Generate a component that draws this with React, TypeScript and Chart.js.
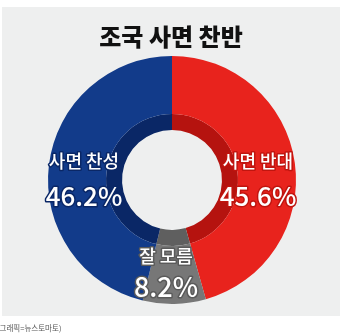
import React, { useEffect, useRef } from "react";
import { Chart, registerables } from "chart.js";

Chart.register(...registerables);

const title = "조국 사면 찬반";
const categories = ["사면 반대", "잘 모름", "사면 찬성"];
const values = [45.6, 8.2, 46.2];
const valueLabels = ["45.6%", "8.2%", "46.2%"];
const mainColors = ["#e8231d", "#777777", "#123b8a"];
const innerColors = ["#b5130f", "#5f5f5f", "#0a2766"];
const outlineColors = ["#c0150f", "#5a5a5a", "#0a2766"];
const credit = "(그래픽=뉴스토마토)";

const FONT = "'Noto Sans CJK KR', 'Noto Sans', sans-serif";

const decor = {
  id: "decor",
  beforeDraw(chart: any) {
    const ctx = chart.ctx;
    ctx.save();
    ctx.fillStyle = "#ffffff";
    ctx.fillRect(0, 0, chart.width, chart.height);
    ctx.fillStyle = "#eeefef";
    ctx.fillRect(2, 7, chart.width - 2, 309);
    ctx.restore();
  },
  afterDraw(chart: any) {
    const ctx = chart.ctx;
    ctx.save();
    ctx.textAlign = "center";
    ctx.textBaseline = "middle";
    ctx.fillStyle = "#111111";
    ctx.font = `900 24px ${FONT}`;
    ctx.fillText(title, 171, 37);

    const meta = chart.getDatasetMeta(0);
    const positions = [
      { x: 258, y: 161, y2: 196 },
      { x: 166, y: 256, y2: 287 },
      { x: 84, y: 161, y2: 196 },
    ];
    categories.forEach((c, i) => {
      const arc = meta.data[i];
      if (!arc) return;
      const p = positions[i];
      ctx.lineJoin = "round";
      ctx.lineWidth = 3;
      ctx.strokeStyle = outlineColors[i];
      ctx.fillStyle = "#ffffff";
      ctx.font = `500 18px ${FONT}`;
      ctx.strokeText(c, p.x, p.y);
      ctx.fillText(c, p.x, p.y);
      ctx.font = `500 ${i === 1 ? 27 : 26}px ${FONT}`;
      ctx.strokeText(valueLabels[i], p.x, p.y2);
      ctx.fillText(valueLabels[i], p.x, p.y2);
    });

    ctx.textAlign = "left";
    ctx.fillStyle = "#555555";
    ctx.font = `400 7.5px ${FONT}`;
    ctx.fillText(credit, -3, 328);
    ctx.restore();
  },
};

export default function App() {
  const ref = useRef<HTMLCanvasElement>(null);
  useEffect(() => {
    if (!ref.current) return;
    const chart = new Chart(ref.current, {
      type: "doughnut",
      data: {
        labels: categories,
        datasets: [
          {
            data: values,
            backgroundColor: mainColors,
            borderWidth: 0,
            weight: 58,
          },
          {
            data: values,
            backgroundColor: innerColors,
            borderWidth: 0,
            weight: 16,
          },
        ],
      },
      options: {
        animation: false,
        responsive: false,
        maintainAspectRatio: false,
        cutout: "40.3%",
        layout: { padding: { left: 48, right: 44, top: 56, bottom: 32 } },
        plugins: {
          legend: { display: false },
          title: { display: false },
          tooltip: { enabled: false },
        },
      },
      plugins: [decor],
    });
    return () => chart.destroy();
  }, []);
  return (
    <div style={{ position: "fixed", left: 0, top: 0, width: 340, height: 336 }}>
      <canvas ref={ref} width={340} height={336} style={{ width: 340, height: 336, display: "block" }} />
    </div>
  );
}
